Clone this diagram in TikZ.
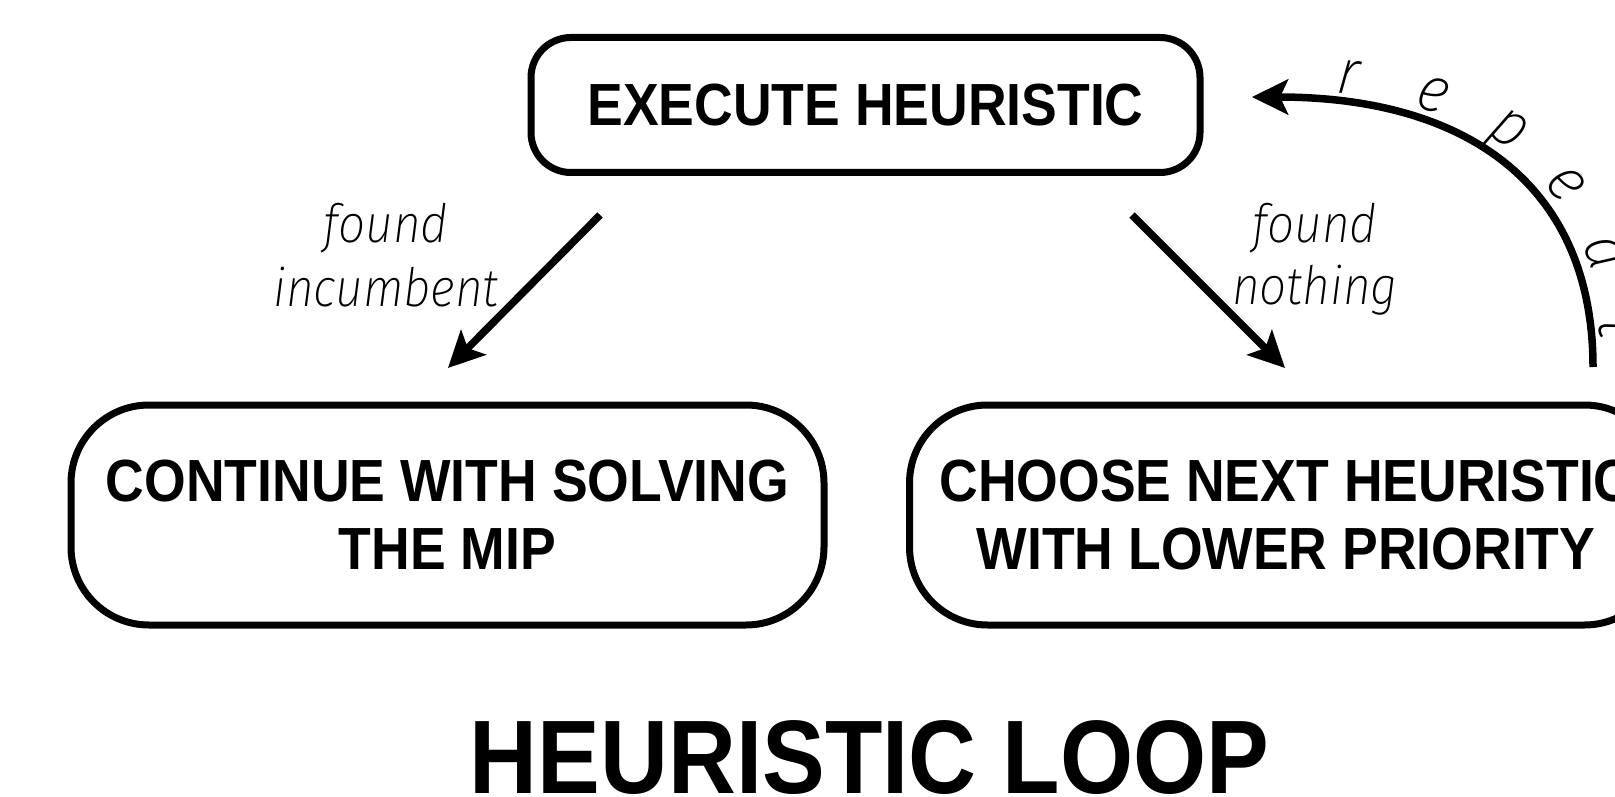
\documentclass[tikz,border=0pt]{standalone}
\usepackage{fontspec}
\setmainfont{Liberation Sans}
\newfontfamily\boldcond{Liberation Sans}[FakeStretch=0.9]
\newfontfamily\lightit{Fira Sans ExtraLight Italic}[FakeStretch=0.9]
\usetikzlibrary{arrows.meta}
\begin{document}
\begin{tikzpicture}[x=1pt,y=-1pt,
  >={Stealth[length=36pt,width=35pt,inset=8pt]},
  box/.style={draw, line width=7pt, rounded corners=#1, inner sep=0pt, align=center,
    font=\boldcond\bfseries\fontsize{59.5}{68}\selectfont},
  lab/.style={font=\lightit\fontsize{53}{60}\selectfont, inner sep=0pt, anchor=base},
  rlet/.style={font=\lightit\fontsize{64}{68}\selectfont, inner sep=0pt, sloped, anchor=base, yshift=#1},
  conn/.style={line width=7.5pt, ->},
]
\useasboundingbox (0,0) rectangle (1615,797);
\clip (0,0) rectangle (1615,797);

\node[box=40pt, minimum width=669pt, minimum height=135pt] (exec) at (865.5,105) {EXECUTE HEURISTIC};
\node[box=78pt, minimum width=753pt, minimum height=220pt] (cont) at (447.5,515) {CONTINUE WITH SOLVING\\THE MIP};
\node[box=78pt, minimum width=753pt, minimum height=220pt] (choose) at (1286,515) {CHOOSE NEXT HEURISTIC\\WITH LOWER PRIORITY};

\node[font=\boldcond\bfseries\fontsize{104.5}{110}\selectfont, anchor=base, inner sep=0pt] (title) at (869.5,793) {HEURISTIC LOOP};

\coordinate (a1s) at (600,215);
\coordinate (a1e) at (448,368);
\coordinate (a2s) at (1132,215);
\coordinate (a2e) at (1285,368);
\draw[conn] (a1s) -- (a1e);
\draw[conn] (a2s) -- (a2e);

\node[lab] (l1a) at (386,242) {found};
\node[lab] (l1b) at (386,306) {incumbent};
\node[lab] (l2a) at (1315,242) {found};
\node[lab] (l2b) at (1315,304) {nothing};

\coordinate (rtip) at (1252,97);
\coordinate (rstart) at (1593,367);
\draw[line width=7.5pt, <-] (rtip) .. controls (1474,97) and (1593,191) .. (rstart)
  node[rlet=9pt, pos=0.15] (r1) {r}
  node[rlet=12pt, pos=0.30] (r2) {e}
  node[rlet=15pt, pos=0.46] (r3) {p}
  node[rlet=13pt, pos=0.62] (r4) {e}
  node[rlet=13pt, pos=0.78] (r5) {a}
  node[rlet=8pt, pos=0.93] (r6) {t};
\end{tikzpicture}
\end{document}
